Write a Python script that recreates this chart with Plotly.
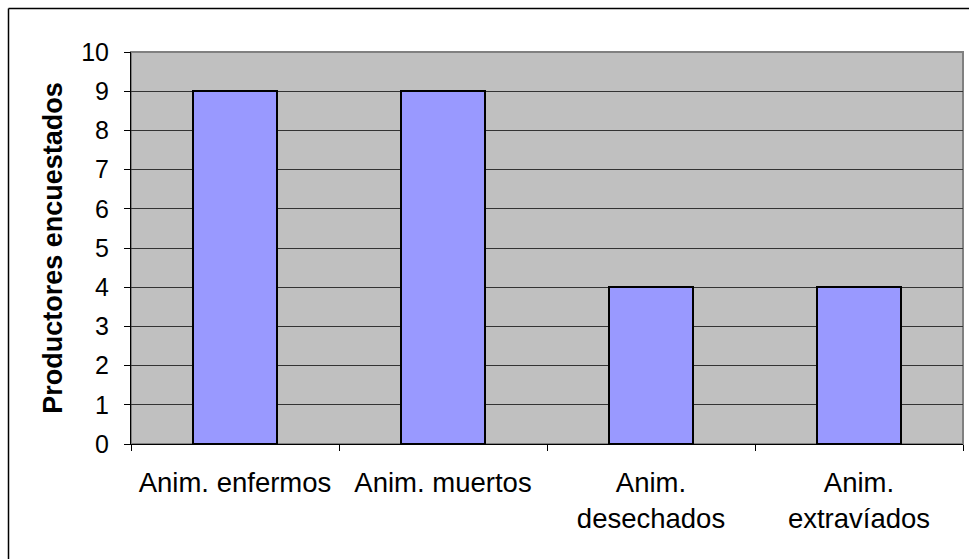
import plotly.graph_objects as go

# Survey data: number of producers reporting each animal category
categorias = ["Anim. enfermos", "Anim. muertos", "Anim.<br>desechados", "Anim.<br>extravíados"]
productores = [9, 9, 4, 4]
ticks_y = list(range(0, 11))

W, H = 969, 559
ML, MR, MT, MB = 131, 6, 52, 115
pw, ph = W - ML - MR, H - MT - MB

def px_x(x):
    return (x - ML) / pw

def px_y(y):
    return 1 - (y - MT) / ph

fig = go.Figure(
    go.Bar(
        x=categorias,
        y=productores,
        width=0.404,
        marker=dict(color="#9999FF", line=dict(color="black", width=2)),
    )
)

fig.update_layout(
    width=W,
    height=H,
    margin=dict(l=ML, r=MR, t=MT, b=MB),
    paper_bgcolor="white",
    plot_bgcolor="#C0C0C0",
    showlegend=False,
    font=dict(family="Liberation Sans, Arial", color="black"),
    bargap=0,
)

fig.update_xaxes(
    type="category",
    tickson="boundaries",
    ticks="outside",
    ticklen=6,
    tickcolor="black",
    showline=True,
    linecolor="black",
    linewidth=1,
    showgrid=False,
    tickfont=dict(size=27.5),
    ticklabelstandoff=14,
)

fig.update_yaxes(
    range=[0, 10],
    tickvals=ticks_y,
    ticks="outside",
    ticklen=6,
    tickcolor="black",
    showline=True,
    linecolor="black",
    linewidth=1,
    showgrid=True,
    gridcolor="#333333",
    gridwidth=1,
    zeroline=False,
    tickfont=dict(size=25),
    ticklabelstandoff=10,
    title=dict(text="<b>Productores encuestados</b>", font=dict(size=27), standoff=10),
)

# gray frame around the plotting area
fig.add_shape(type="rect", xref="paper", yref="paper", x0=0, x1=1, y0=0, y1=1,
              line=dict(color="#808080", width=2), layer="below")

# chart border (left and top edges)
fx, fy = px_x(8.5), px_y(8.5)
fig.add_shape(type="line", xref="paper", yref="paper", x0=fx, x1=fx, y0=fy, y1=px_y(H + 20),
              line=dict(color="black", width=1.5))
fig.add_shape(type="line", xref="paper", yref="paper", x0=fx, x1=px_x(W + 20), y0=fy, y1=fy,
              line=dict(color="black", width=1.5))

fig.write_html("out.html")
